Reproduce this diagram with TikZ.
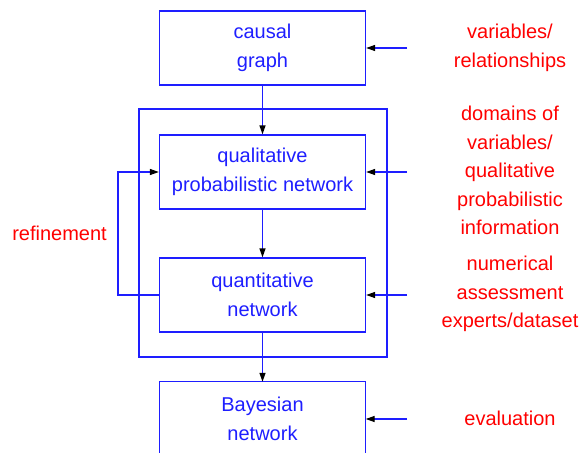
\documentclass[tikz,border=0pt]{standalone}
\usepackage{fontspec}
\setmainfont{Liberation Sans}
\usetikzlibrary{arrows.meta}
\definecolor{lblue}{RGB}{30,30,255}
\definecolor{lred}{RGB}{255,0,0}
\tikzset{
  box/.style={draw=lblue, line width=1.3pt, minimum width=206pt, minimum height=74pt, inner sep=0pt, text=lblue, align=center, font=\fontsize{20}{28.6}\selectfont},
  lbl/.style={text=lred, align=center, inner sep=0pt, font=\fontsize{20}{28.6}\selectfont},
  link/.style={draw=lblue, line width=1.3pt, -{Triangle[color=black,length=9pt,width=6pt]}},
  wire/.style={draw=lblue, line width=1.3pt},
}
\begin{document}
\begin{tikzpicture}[x=1pt,y=-1pt]
\useasboundingbox (0,0) rectangle (583,452);
\begin{scope}
\clip (0,0) rectangle (583,452);
% outer frame
\draw[wire] (139,109) rectangle (387,357);
\node[box] (causal) at (262.5,48) {causal\\graph};
\node[box] (qual) at (262.5,172) {qualitative\\probabilistic network};
\node[box] (quant) at (262.5,295) {quantitative\\network};
% Bayesian box (cut at bottom)
\node[text=lblue, align=center, inner sep=0pt, font=\fontsize{20}{28.6}\selectfont, minimum width=206pt, minimum height=74pt] (bayes) at (262.5,419) {Bayesian\\network};
\draw[wire] (bayes.south west) -- (bayes.north west) -- (bayes.north east) -- (bayes.south east);
\draw[wire] (bayes.south west) -- ++(0,20);
\draw[wire] (bayes.south east) -- ++(0,20);
% vertical arrows
\draw[link] (causal.south) -- (qual.north);
\draw[link] (qual.south) -- (quant.north);
\draw[link] (quant.south) -- (bayes.north);
% right inputs
\coordinate (i1) at (407,48);
\coordinate (i2) at (407,172);
\coordinate (i3) at (407,295);
\coordinate (i4) at (407,419);
\draw[link] (i1) -- (causal.east);
\draw[link] (i2) -- (qual.east);
\draw[link] (i3) -- (quant.east);
\draw[link] (i4) -- (bayes.east);
% refinement loop
\coordinate (r1) at (118,295);
\coordinate (r2) at (118,172);
\draw[link] (quant.west) -- (r1) -- (r2) -- (qual.west);
% labels
\node[lbl] (l1) at (510,48) {variables/\\relationships};
\node[lbl] (l2) at (510,170.5) {domains of\\variables/\\qualitative\\probabilistic\\information};
\node[lbl] (l3) at (510,294) {numerical\\assessment\\experts/dataset};
\node[lbl] (l4) at (510,418) {evaluation};
\node[lbl] (ref) at (59.5,233) {refinement};
\end{scope}
\end{tikzpicture}
\end{document}
